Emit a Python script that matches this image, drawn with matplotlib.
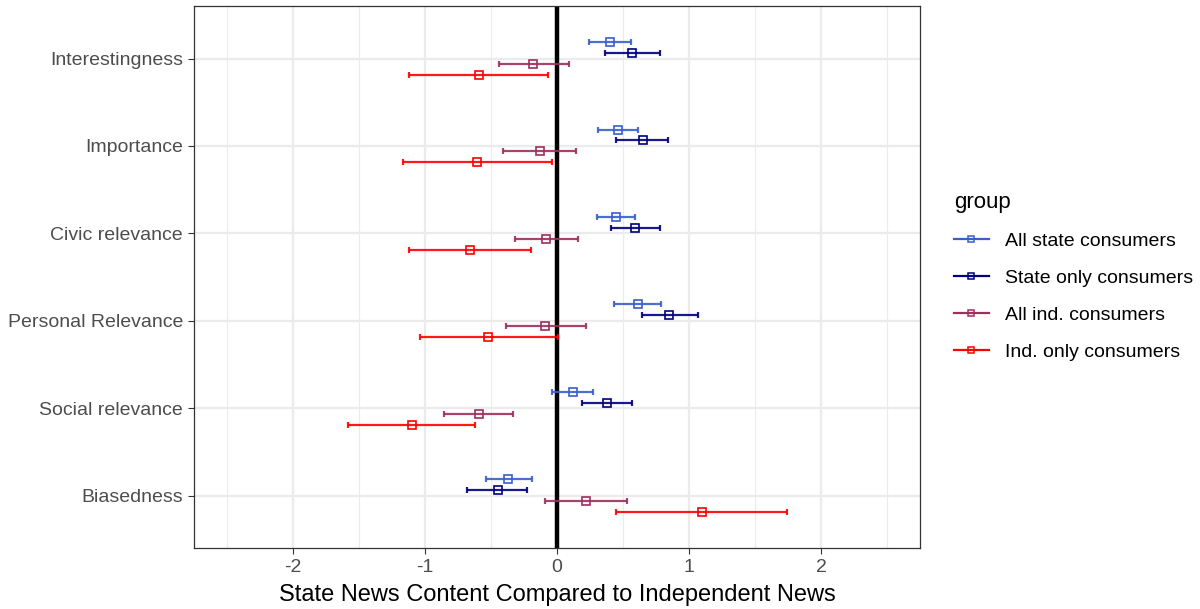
import numpy as np
import matplotlib
matplotlib.use("Agg")
import matplotlib.pyplot as plt
from matplotlib.lines import Line2D

plt.rcParams['font.family'] = ['Liberation Sans', 'DejaVu Sans']

categories = ["Interestingness", "Importance", "Civic relevance",
              "Personal Relevance", "Social relevance", "Biasedness"]
groups = ["All state consumers", "State only consumers",
          "All ind. consumers", "Ind. only consumers"]
colors = ["#3A5FCD", "#000080", "#9E2F5E", "#FF0000"]

# point estimates per group (rows follow categories)
est_all_state = [0.40, 0.46, 0.45, 0.61, 0.12, -0.37]
est_state_only = [0.57, 0.65, 0.59, 0.85, 0.38, -0.45]
est_all_ind = [-0.18, -0.13, -0.08, -0.09, -0.59, 0.22]
est_ind_only = [-0.59, -0.61, -0.66, -0.52, -1.10, 1.10]

# lower / upper confidence bounds
lo_all_state = [0.24, 0.31, 0.30, 0.43, -0.04, -0.54]
hi_all_state = [0.56, 0.61, 0.59, 0.79, 0.27, -0.19]
lo_state_only = [0.36, 0.45, 0.41, 0.64, 0.19, -0.68]
hi_state_only = [0.78, 0.84, 0.78, 1.07, 0.57, -0.23]
lo_all_ind = [-0.44, -0.41, -0.32, -0.39, -0.86, -0.09]
hi_all_ind = [0.09, 0.14, 0.16, 0.22, -0.33, 0.53]
lo_ind_only = [-1.12, -1.17, -1.12, -1.04, -1.58, 0.45]
hi_ind_only = [-0.07, -0.04, -0.20, 0.01, -0.62, 1.74]

estimates = [est_all_state, est_state_only, est_all_ind, est_ind_only]
lowers = [lo_all_state, lo_state_only, lo_all_ind, lo_ind_only]
uppers = [hi_all_state, hi_state_only, hi_all_ind, hi_ind_only]

fig = plt.figure(figsize=(12, 6.09), dpi=100)
ax = fig.add_axes([0.1617, 0.1002, 0.605, 0.8898])

ypos = np.arange(len(categories))
offsets = [-0.1875, -0.0625, 0.0625, 0.1875]

# grid (theme_bw-like)
for x in np.arange(-2.5, 2.51, 0.5):
    major = abs(x - round(x)) < 1e-9
    ax.axvline(x, color="#EBEBEB", lw=1.6 if major else 0.8, zorder=0)
for y in ypos:
    ax.axhline(y, color="#EBEBEB", lw=1.6, zorder=0)

ax.axvline(0, color="black", lw=3.2, zorder=1)

for est, lo, hi, off, col in zip(estimates, lowers, uppers, offsets, colors):
    est = np.array(est)
    lo = np.array(lo)
    hi = np.array(hi)
    y = ypos + off
    ax.errorbar(est, y, xerr=[est - lo, hi - est], fmt='none',
                ecolor=col, elinewidth=1.6, capsize=2.2, capthick=1.6,
                alpha=0.9, zorder=2)
    ax.plot(est, y, linestyle='none', marker='s', markersize=6.0,
            markerfacecolor='none', markeredgecolor=col,
            markeredgewidth=1.2, zorder=3)

ax.set_xlim(-2.75, 2.75)
ax.set_ylim(5.6, -0.6)
ax.set_xticks([-2, -1, 0, 1, 2])
ax.set_xticklabels(["-2", "-1", "0", "1", "2"])
ax.set_yticks(ypos)
ax.set_yticklabels(categories)
ax.tick_params(axis='both', labelsize=14, colors="#333333",
               labelcolor="#4D4D4D", length=4, width=0.8, pad=4)
for s in ax.spines.values():
    s.set_color("#333333")
    s.set_linewidth(0.9)

ax.set_xlabel("State News Content Compared to Independent News",
              fontsize=17, color="black", labelpad=6)

handles = [Line2D([0], [0], color=c, lw=1.6, marker='s', markersize=4.5,
                  markerfacecolor='none', markeredgecolor=c,
                  markeredgewidth=1.1) for c in colors]
leg = fig.legend(handles, groups, loc='center left',
                 bbox_to_anchor=(0.7885, 0.546), frameon=False,
                 fontsize=14, title="group", title_fontsize=16,
                 handlelength=1.8, labelspacing=1.0, handletextpad=0.8,
                 borderaxespad=0)
leg._legend_box.align = "left"
leg._legend_box.sep = 14

fig.savefig("out.png", dpi=100)
